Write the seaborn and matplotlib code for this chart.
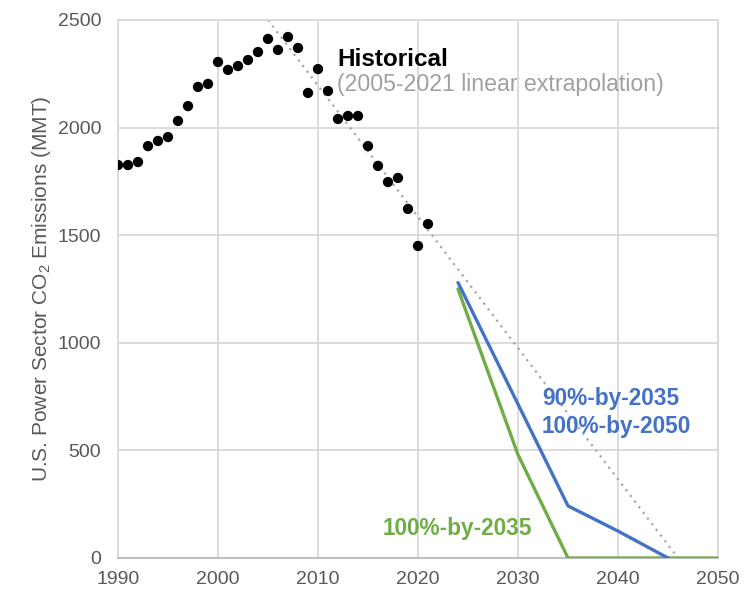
import matplotlib
matplotlib.use("Agg")
import matplotlib.pyplot as plt
import seaborn as sns
import pandas as pd

# ---- data ----
hist_years = list(range(1990, 2022))
hist_values = [1826, 1826, 1840, 1914, 1938, 1956, 2031, 2100, 2189, 2203,
               2305, 2268, 2286, 2314, 2351, 2412, 2361, 2421, 2370, 2161,
               2272, 2170, 2040, 2054, 2054, 1914, 1822, 1747, 1766, 1622,
               1450, 1552]

trend_years = [2005, 2046]
trend_values = [2500, 0]

blue_years = [2024, 2030, 2035, 2038, 2040, 2045]
blue_values = [1280, 715, 242, 172, 125, 0]

green_years = [2024, 2030, 2035, 2050]
green_values = [1250, 480, 0, 0]

x_ticks = [1990, 2000, 2010, 2020, 2030, 2040, 2050]
y_ticks = [0, 500, 1000, 1500, 2000, 2500]

# ---- style ----
sns.set_style("white")
plt.rcParams['font.family'] = ['Liberation Sans', 'DejaVu Sans']
plt.rcParams['mathtext.default'] = 'regular'

BLUE = '#4472C4'
GREEN = '#70AD47'
GRID = '#d9d9d9'
TXT = '#595959'

fig = plt.figure(figsize=(7.56, 5.98), dpi=100)
ax = fig.add_axes([118/756, 40/598, 600/756, 538/598])

hist_df = pd.DataFrame({'year': hist_years, 'value': hist_values})
trend_df = pd.DataFrame({'year': trend_years, 'value': trend_values})
blue_df = pd.DataFrame({'year': blue_years, 'value': blue_values})
green_df = pd.DataFrame({'year': green_years, 'value': green_values})

sns.lineplot(data=trend_df, x='year', y='value', ax=ax, color='#a6a6a6',
             linestyle=(0, (1, 2.2)), linewidth=1.6, zorder=2)
sns.lineplot(data=green_df, x='year', y='value', ax=ax, color=GREEN,
             linewidth=2.4, zorder=3)
sns.lineplot(data=blue_df, x='year', y='value', ax=ax, color=BLUE,
             linewidth=2.4, zorder=4)
sns.scatterplot(data=hist_df, x='year', y='value', ax=ax, color='black',
                s=55, edgecolor='none', zorder=5)

ax.set_xlim(1990, 2050)
ax.set_ylim(0, 2500)
ax.set_xticks(x_ticks)
ax.set_yticks(y_ticks)
ax.grid(True, color=GRID, linewidth=1.3)
ax.set_axisbelow(True)
for side in ['top', 'right', 'left']:
    ax.spines[side].set_color(GRID)
    ax.spines[side].set_linewidth(1.3)
ax.spines['bottom'].set_color('#bfbfbf')
ax.spines['bottom'].set_linewidth(1.5)

ax.tick_params(axis='both', length=0, labelsize=14, labelcolor=TXT)
ax.tick_params(axis='y', pad=12)
ax.tick_params(axis='x', pad=9)
ax.set_xlabel('')
ax.set_ylabel('U.S. Power Sector CO$_2$ Emissions (MMT)', fontsize=15,
              color=TXT)
ax.yaxis.set_label_coords(-0.108, 0.5)

ax.text(2011.9, 2317, 'Historical', fontsize=17.5, fontweight='bold',
        color='black', va='center', ha='left')
ax.text(2011.9, 2202, '(2005-2021 linear extrapolation)', fontsize=16.7,
        color='#a0a0a0', va='center', ha='left')
ax.text(2032.4, 740, '90%-by-2035', fontsize=16.3, fontweight='bold',
        color=BLUE, va='center', ha='left')
ax.text(2032.4, 612, '100%-by-2050', fontsize=16.3, fontweight='bold',
        color=BLUE, va='center', ha='left')
ax.text(2016.5, 138, '100%-by-2035', fontsize=16.3, fontweight='bold',
        color=GREEN, va='center', ha='left')

fig.savefig('out.png', dpi=100)
